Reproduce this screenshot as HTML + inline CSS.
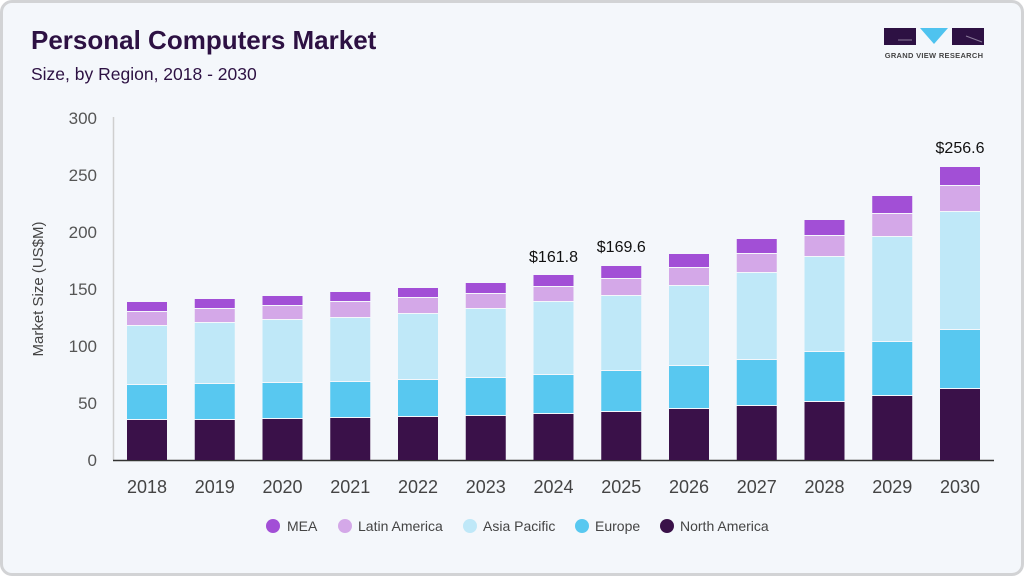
<!DOCTYPE html>
<html><head><meta charset="utf-8"><style>
html,body{margin:0;padding:0;background:#fff}
.card{position:absolute;left:0;top:0;width:1018px;height:570px;border:3px solid #d2d3d5;border-radius:12px;background:#f4f7fb;overflow:hidden}
svg{position:absolute;left:0;top:0}
text{font-family:"Liberation Sans",Arial,sans-serif}
</style></head><body>
<div class="card"></div>
<svg width="1024" height="576" viewBox="0 0 1024 576">
<text x="31" y="49" font-size="26" font-weight="bold" fill="#2d1143">Personal Computers Market</text>
<text x="31" y="80" font-size="17.5" fill="#2d1143">Size, by Region, 2018 - 2030</text>
<!-- logo -->
<rect x="884" y="28" width="32" height="17" fill="#2d1143"/>
<polygon points="920,28 948,28 934,44" fill="#4fc3ef"/>
<rect x="952" y="28" width="32" height="17" fill="#2d1143"/>
<path d="M898 40 H912 M966 36 L982 42" stroke="#8a7a9a" stroke-width="1" fill="none"/>
<text x="934" y="58" font-size="7.5" font-weight="bold" fill="#444" text-anchor="middle" letter-spacing="0.3">GRAND VIEW RESEARCH</text>
<!-- axes -->
<line x1="113.5" y1="117" x2="113.5" y2="460" stroke="#cfcfcf" stroke-width="1.5"/>
<line x1="113" y1="460.5" x2="994" y2="460.5" stroke="#333" stroke-width="1.5"/>
<g font-size="17" fill="#555" text-anchor="end">
<text x="97" y="466">0</text><text x="97" y="409">50</text><text x="97" y="352">100</text>
<text x="97" y="295">150</text><text x="97" y="238">200</text><text x="97" y="181">250</text><text x="97" y="124">300</text>
</g>
<text transform="translate(43,289) rotate(-90)" font-size="15" fill="#444" text-anchor="middle">Market Size (US$M)</text>
<g id="bars">
<g transform="translate(127,0)"><rect y="420" width="40" height="40" fill="#3a1149"/><rect y="385" width="40" height="34" fill="#58c8f0"/><rect y="326" width="40" height="58" fill="#bfe8f8"/><rect y="312" width="40" height="13" fill="#d4a8e8"/><rect y="302" width="40" height="9" fill="#a24fd6"/></g>
<g transform="translate(194.75,0)"><rect y="420" width="40" height="40" fill="#3a1149"/><rect y="384" width="40" height="35" fill="#58c8f0"/><rect y="323" width="40" height="60" fill="#bfe8f8"/><rect y="309" width="40" height="13" fill="#d4a8e8"/><rect y="299" width="40" height="9" fill="#a24fd6"/></g>
<g transform="translate(262.5,0)"><rect y="419" width="40" height="41" fill="#3a1149"/><rect y="383" width="40" height="35" fill="#58c8f0"/><rect y="320" width="40" height="62" fill="#bfe8f8"/><rect y="306" width="40" height="13" fill="#d4a8e8"/><rect y="296" width="40" height="9" fill="#a24fd6"/></g>
<g transform="translate(330.25,0)"><rect y="418" width="40" height="42" fill="#3a1149"/><rect y="382" width="40" height="35" fill="#58c8f0"/><rect y="318" width="40" height="63" fill="#bfe8f8"/><rect y="302" width="40" height="15" fill="#d4a8e8"/><rect y="292" width="40" height="9" fill="#a24fd6"/></g>
<g transform="translate(398,0)"><rect y="417" width="40" height="43" fill="#3a1149"/><rect y="380" width="40" height="36" fill="#58c8f0"/><rect y="314" width="40" height="65" fill="#bfe8f8"/><rect y="298" width="40" height="15" fill="#d4a8e8"/><rect y="288" width="40" height="9" fill="#a24fd6"/></g>
<g transform="translate(465.75,0)"><rect y="416" width="40" height="44" fill="#3a1149"/><rect y="378" width="40" height="37" fill="#58c8f0"/><rect y="309" width="40" height="68" fill="#bfe8f8"/><rect y="294" width="40" height="14" fill="#d4a8e8"/><rect y="283" width="40" height="10" fill="#a24fd6"/></g>
<g transform="translate(533.5,0)"><rect y="414" width="40" height="46" fill="#3a1149"/><rect y="375" width="40" height="38" fill="#58c8f0"/><rect y="302" width="40" height="72" fill="#bfe8f8"/><rect y="287" width="40" height="14" fill="#d4a8e8"/><rect y="275" width="40" height="11" fill="#a24fd6"/></g>
<g transform="translate(601.25,0)"><rect y="412" width="40" height="48" fill="#3a1149"/><rect y="371" width="40" height="40" fill="#58c8f0"/><rect y="296" width="40" height="74" fill="#bfe8f8"/><rect y="279" width="40" height="16" fill="#d4a8e8"/><rect y="266" width="40" height="12" fill="#a24fd6"/></g>
<g transform="translate(669,0)"><rect y="409" width="40" height="51" fill="#3a1149"/><rect y="366" width="40" height="42" fill="#58c8f0"/><rect y="286" width="40" height="79" fill="#bfe8f8"/><rect y="268" width="40" height="17" fill="#d4a8e8"/><rect y="254" width="40" height="13" fill="#a24fd6"/></g>
<g transform="translate(736.75,0)"><rect y="406" width="40" height="54" fill="#3a1149"/><rect y="360" width="40" height="45" fill="#58c8f0"/><rect y="273" width="40" height="86" fill="#bfe8f8"/><rect y="254" width="40" height="18" fill="#d4a8e8"/><rect y="239" width="40" height="14" fill="#a24fd6"/></g>
<g transform="translate(804.5,0)"><rect y="402" width="40" height="58" fill="#3a1149"/><rect y="352" width="40" height="49" fill="#58c8f0"/><rect y="257" width="40" height="94" fill="#bfe8f8"/><rect y="236" width="40" height="20" fill="#d4a8e8"/><rect y="220" width="40" height="15" fill="#a24fd6"/></g>
<g transform="translate(872.25,0)"><rect y="396" width="40" height="64" fill="#3a1149"/><rect y="342" width="40" height="53" fill="#58c8f0"/><rect y="237" width="40" height="104" fill="#bfe8f8"/><rect y="214" width="40" height="22" fill="#d4a8e8"/><rect y="196" width="40" height="17" fill="#a24fd6"/></g>
<g transform="translate(940,0)"><rect y="389" width="40" height="71" fill="#3a1149"/><rect y="330" width="40" height="58" fill="#58c8f0"/><rect y="212" width="40" height="117" fill="#bfe8f8"/><rect y="186" width="40" height="25" fill="#d4a8e8"/><rect y="167" width="40" height="18" fill="#a24fd6"/></g>
</g>
<g font-size="16" fill="#111" text-anchor="middle">
<text x="553.5" y="262">$161.8</text><text x="621.25" y="252">$169.6</text><text x="960" y="153">$256.6</text>
</g>
<g font-size="18" fill="#444" text-anchor="middle">
<text x="147" y="493">2018</text><text x="214.75" y="493">2019</text><text x="282.5" y="493">2020</text><text x="350.25" y="493">2021</text><text x="418" y="493">2022</text><text x="485.75" y="493">2023</text><text x="553.5" y="493">2024</text><text x="621.25" y="493">2025</text><text x="689" y="493">2026</text><text x="756.75" y="493">2027</text><text x="824.5" y="493">2028</text><text x="892.25" y="493">2029</text><text x="960" y="493">2030</text>
</g>
<g font-size="14" fill="#444">
<circle cx="273" cy="526" r="7" fill="#a24fd6"/><text x="287" y="531">MEA</text>
<circle cx="345" cy="526" r="7" fill="#d4a8e8"/><text x="358" y="531">Latin America</text>
<circle cx="470" cy="526" r="7" fill="#bfe8f8"/><text x="483" y="531">Asia Pacific</text>
<circle cx="582" cy="526" r="7" fill="#58c8f0"/><text x="595" y="531">Europe</text>
<circle cx="667" cy="526" r="7" fill="#3a1149"/><text x="680" y="531">North America</text>
</g>
</svg>
</body></html>
